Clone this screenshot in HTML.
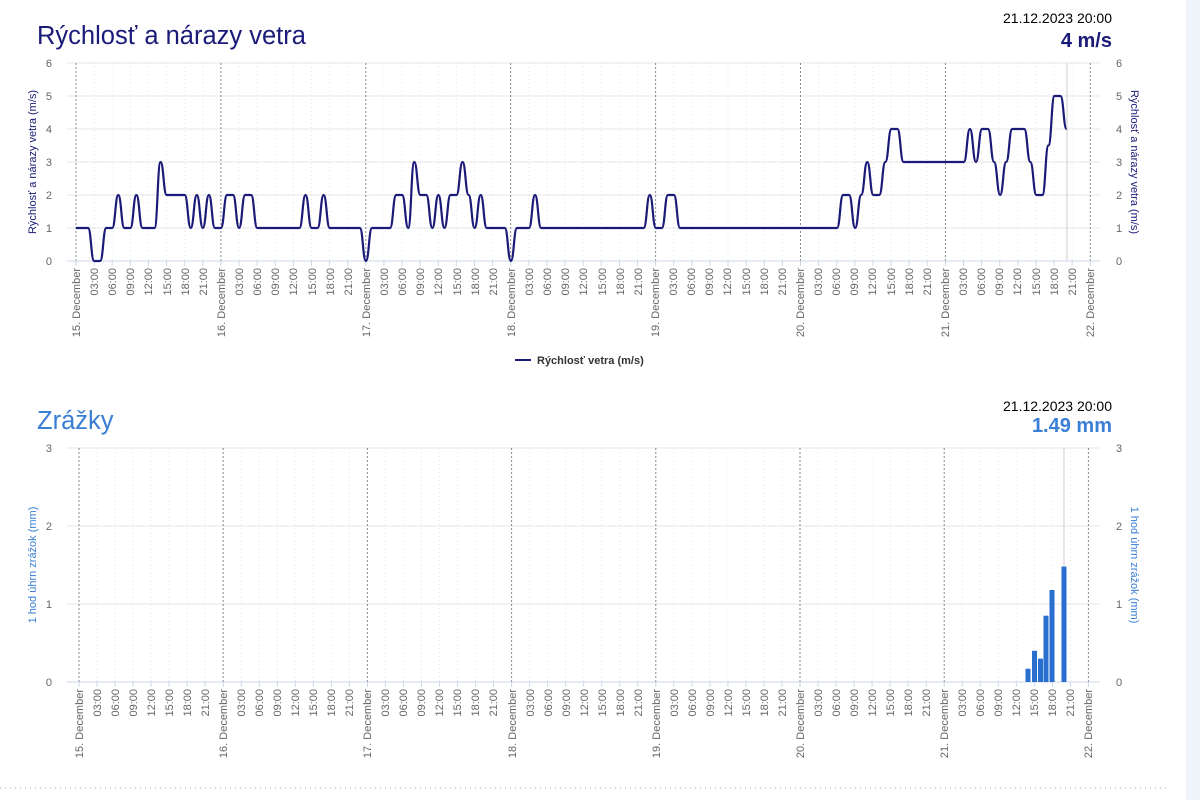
<!DOCTYPE html>
<html><head><meta charset="utf-8"><style>
body{margin:0;background:#fff;width:1200px;height:800px;overflow:hidden;font-family:"Liberation Sans",sans-serif}
svg{position:absolute;left:0;top:0}
.t{font-size:11px;fill:#666}
</style></head><body>
<svg width="1200" height="800" xmlns="http://www.w3.org/2000/svg" font-family="Liberation Sans, sans-serif">
<rect x="1186" y="0" width="14" height="800" fill="#f0f4fb"/>
<line x1="0" y1="788" x2="1170" y2="788" stroke="#aaa" stroke-dasharray="1,4"/>
<g id="g1"></g><g id="g2"></g>
<text x="37" y="44" font-size="25.5" fill="#1a1a78">Rýchlosť a nárazy vetra</text>
<text x="1112" y="23" font-size="14" fill="#000" text-anchor="end">21.12.2023 20:00</text>
<text x="1112" y="47" font-size="20" font-weight="bold" fill="#1a1a78" text-anchor="end">4 m/s</text>
<text x="37" y="429" font-size="25.5" fill="#3a7fd5">Zrážky</text>
<text x="1112" y="411" font-size="14" fill="#000" text-anchor="end">21.12.2023 20:00</text>
<text x="1112" y="432" font-size="20" font-weight="bold" fill="#3a7fd5" text-anchor="end">1.49 mm</text>
<g class="t" text-anchor="end">
<text x="52" y="67">6</text><text x="52" y="100">5</text><text x="52" y="133">4</text><text x="52" y="166">3</text><text x="52" y="199">2</text><text x="52" y="232">1</text><text x="52" y="265">0</text>
<text x="52" y="452">3</text><text x="52" y="530">2</text><text x="52" y="608">1</text><text x="52" y="686">0</text>
</g>
<g class="t">
<text x="1116" y="67">6</text><text x="1116" y="100">5</text><text x="1116" y="133">4</text><text x="1116" y="166">3</text><text x="1116" y="199">2</text><text x="1116" y="232">1</text><text x="1116" y="265">0</text>
<text x="1116" y="452">3</text><text x="1116" y="530">2</text><text x="1116" y="608">1</text><text x="1116" y="686">0</text>
</g>
<text transform="translate(36,162)rotate(-90)" font-size="11" fill="#1a1a78" text-anchor="middle">Rýchlosť a nárazy vetra (m/s)</text>
<text transform="translate(1131,162)rotate(90)" font-size="11" fill="#1a1a78" text-anchor="middle">Rýchlosť a nárazy vetra (m/s)</text>
<text transform="translate(36,565)rotate(-90)" font-size="11" fill="#3a7fd5" text-anchor="middle">1 hod úhrn zrážok (mm)</text>
<text transform="translate(1131,565)rotate(90)" font-size="11" fill="#3a7fd5" text-anchor="middle">1 hod úhrn zrážok (mm)</text>
<line x1="515" y1="360" x2="531" y2="360" stroke="#1a1a78" stroke-width="2"/>
<text x="537" y="364" font-size="11" font-weight="bold" fill="#333">Rýchlosť vetra (m/s)</text>
<g class="t" text-anchor="end" id="lab1">
<g transform="translate(76,268)"><text transform="translate(4,0)rotate(-90)">15. December</text><text transform="translate(22,0)rotate(-90)">03:00</text><text transform="translate(40,0)rotate(-90)">06:00</text><text transform="translate(58,0)rotate(-90)">09:00</text><text transform="translate(76,0)rotate(-90)">12:00</text><text transform="translate(95,0)rotate(-90)">15:00</text><text transform="translate(113,0)rotate(-90)">18:00</text><text transform="translate(131,0)rotate(-90)">21:00</text></g>
<g transform="translate(221,268)"><text transform="translate(4,0)rotate(-90)">16. December</text><text transform="translate(22,0)rotate(-90)">03:00</text><text transform="translate(40,0)rotate(-90)">06:00</text><text transform="translate(58,0)rotate(-90)">09:00</text><text transform="translate(76,0)rotate(-90)">12:00</text><text transform="translate(95,0)rotate(-90)">15:00</text><text transform="translate(113,0)rotate(-90)">18:00</text><text transform="translate(131,0)rotate(-90)">21:00</text></g>
<g transform="translate(366,268)"><text transform="translate(4,0)rotate(-90)">17. December</text><text transform="translate(22,0)rotate(-90)">03:00</text><text transform="translate(40,0)rotate(-90)">06:00</text><text transform="translate(58,0)rotate(-90)">09:00</text><text transform="translate(76,0)rotate(-90)">12:00</text><text transform="translate(95,0)rotate(-90)">15:00</text><text transform="translate(113,0)rotate(-90)">18:00</text><text transform="translate(131,0)rotate(-90)">21:00</text></g>
<g transform="translate(511,268)"><text transform="translate(4,0)rotate(-90)">18. December</text><text transform="translate(22,0)rotate(-90)">03:00</text><text transform="translate(40,0)rotate(-90)">06:00</text><text transform="translate(58,0)rotate(-90)">09:00</text><text transform="translate(76,0)rotate(-90)">12:00</text><text transform="translate(95,0)rotate(-90)">15:00</text><text transform="translate(113,0)rotate(-90)">18:00</text><text transform="translate(131,0)rotate(-90)">21:00</text></g>
<g transform="translate(655,268)"><text transform="translate(4,0)rotate(-90)">19. December</text><text transform="translate(22,0)rotate(-90)">03:00</text><text transform="translate(40,0)rotate(-90)">06:00</text><text transform="translate(58,0)rotate(-90)">09:00</text><text transform="translate(76,0)rotate(-90)">12:00</text><text transform="translate(95,0)rotate(-90)">15:00</text><text transform="translate(113,0)rotate(-90)">18:00</text><text transform="translate(131,0)rotate(-90)">21:00</text></g>
<g transform="translate(800,268)"><text transform="translate(4,0)rotate(-90)">20. December</text><text transform="translate(22,0)rotate(-90)">03:00</text><text transform="translate(40,0)rotate(-90)">06:00</text><text transform="translate(58,0)rotate(-90)">09:00</text><text transform="translate(76,0)rotate(-90)">12:00</text><text transform="translate(95,0)rotate(-90)">15:00</text><text transform="translate(113,0)rotate(-90)">18:00</text><text transform="translate(131,0)rotate(-90)">21:00</text></g>
<g transform="translate(945,268)"><text transform="translate(4,0)rotate(-90)">21. December</text><text transform="translate(22,0)rotate(-90)">03:00</text><text transform="translate(40,0)rotate(-90)">06:00</text><text transform="translate(58,0)rotate(-90)">09:00</text><text transform="translate(76,0)rotate(-90)">12:00</text><text transform="translate(95,0)rotate(-90)">15:00</text><text transform="translate(113,0)rotate(-90)">18:00</text><text transform="translate(131,0)rotate(-90)">21:00</text></g>
<g transform="translate(1090,268)"><text transform="translate(4,0)rotate(-90)">22. December</text></g>
</g>
<g class="t" text-anchor="end">
<g transform="translate(79,689)"><text transform="translate(4,0)rotate(-90)">15. December</text><text transform="translate(22,0)rotate(-90)">03:00</text><text transform="translate(40,0)rotate(-90)">06:00</text><text transform="translate(58,0)rotate(-90)">09:00</text><text transform="translate(76,0)rotate(-90)">12:00</text><text transform="translate(94,0)rotate(-90)">15:00</text><text transform="translate(112,0)rotate(-90)">18:00</text><text transform="translate(130,0)rotate(-90)">21:00</text></g>
<g transform="translate(223,689)"><text transform="translate(4,0)rotate(-90)">16. December</text><text transform="translate(22,0)rotate(-90)">03:00</text><text transform="translate(40,0)rotate(-90)">06:00</text><text transform="translate(58,0)rotate(-90)">09:00</text><text transform="translate(76,0)rotate(-90)">12:00</text><text transform="translate(94,0)rotate(-90)">15:00</text><text transform="translate(112,0)rotate(-90)">18:00</text><text transform="translate(130,0)rotate(-90)">21:00</text></g>
<g transform="translate(367,689)"><text transform="translate(4,0)rotate(-90)">17. December</text><text transform="translate(22,0)rotate(-90)">03:00</text><text transform="translate(40,0)rotate(-90)">06:00</text><text transform="translate(58,0)rotate(-90)">09:00</text><text transform="translate(76,0)rotate(-90)">12:00</text><text transform="translate(94,0)rotate(-90)">15:00</text><text transform="translate(112,0)rotate(-90)">18:00</text><text transform="translate(130,0)rotate(-90)">21:00</text></g>
<g transform="translate(512,689)"><text transform="translate(4,0)rotate(-90)">18. December</text><text transform="translate(22,0)rotate(-90)">03:00</text><text transform="translate(40,0)rotate(-90)">06:00</text><text transform="translate(58,0)rotate(-90)">09:00</text><text transform="translate(76,0)rotate(-90)">12:00</text><text transform="translate(94,0)rotate(-90)">15:00</text><text transform="translate(112,0)rotate(-90)">18:00</text><text transform="translate(130,0)rotate(-90)">21:00</text></g>
<g transform="translate(656,689)"><text transform="translate(4,0)rotate(-90)">19. December</text><text transform="translate(22,0)rotate(-90)">03:00</text><text transform="translate(40,0)rotate(-90)">06:00</text><text transform="translate(58,0)rotate(-90)">09:00</text><text transform="translate(76,0)rotate(-90)">12:00</text><text transform="translate(94,0)rotate(-90)">15:00</text><text transform="translate(112,0)rotate(-90)">18:00</text><text transform="translate(130,0)rotate(-90)">21:00</text></g>
<g transform="translate(800,689)"><text transform="translate(4,0)rotate(-90)">20. December</text><text transform="translate(22,0)rotate(-90)">03:00</text><text transform="translate(40,0)rotate(-90)">06:00</text><text transform="translate(58,0)rotate(-90)">09:00</text><text transform="translate(76,0)rotate(-90)">12:00</text><text transform="translate(94,0)rotate(-90)">15:00</text><text transform="translate(112,0)rotate(-90)">18:00</text><text transform="translate(130,0)rotate(-90)">21:00</text></g>
<g transform="translate(944,689)"><text transform="translate(4,0)rotate(-90)">21. December</text><text transform="translate(22,0)rotate(-90)">03:00</text><text transform="translate(40,0)rotate(-90)">06:00</text><text transform="translate(58,0)rotate(-90)">09:00</text><text transform="translate(76,0)rotate(-90)">12:00</text><text transform="translate(94,0)rotate(-90)">15:00</text><text transform="translate(112,0)rotate(-90)">18:00</text><text transform="translate(130,0)rotate(-90)">21:00</text></g>
<g transform="translate(1088,689)"><text transform="translate(4,0)rotate(-90)">22. December</text></g>
</g>
</svg>
<script>
var NS="http://www.w3.org/2000/svg";
function el(p,n,a){var e=document.createElementNS(NS,n);for(var k in a)e.setAttribute(k,a[k]);p.appendChild(e);return e;}
function chart(g,x0,pd,top,bot,n,curX){
  var step=(bot-top)/n;
  for(var i=1;i<=n;i++){var y=bot-i*step;el(g,'line',{x1:67,x2:1100,y1:y,y2:y,stroke:'#e6e6e6'});}
  for(var d=0;d<8;d++){
    for(var k=1;k<8&&d<7;k++){var x=x0+d*pd+k*pd/8;el(g,'line',{x1:x,x2:x,y1:top,y2:bot,stroke:'#e4e4e4','stroke-dasharray':'1,3'});el(g,'line',{x1:x,x2:x,y1:bot,y2:bot+5,stroke:'#ccd6eb'});}
    var x=x0+d*pd;el(g,'line',{x1:x,x2:x,y1:top,y2:bot,stroke:'#888','stroke-dasharray':'2,2'});el(g,'line',{x1:x,x2:x,y1:bot,y2:bot+5,stroke:'#ccd6eb'});
  }
  el(g,'line',{x1:curX,x2:curX,y1:top,y2:bot,stroke:'#ccc'});
  el(g,'line',{x1:67,x2:1100,y1:bot,y2:bot,stroke:'#ccd6eb'});
}
var g1=document.getElementById('g1'),g2=document.getElementById('g2');
chart(g1,76,144.9,63,261,6,1067);
chart(g2,79,144.2,448,682,3,1064);
var v=[1,1,1,0,0,1,1,2,1,1,2,1,1,1,3,2,2,2,2,1,2,1,2,1,1,2,2,1,2,2,1,1,1,1,1,1,1,1,2,1,1,2,1,1,1,1,1,1,0,1,1,1,1,2,2,1,3,2,2,1,2,1,2,2,3,2,1,2,1,1,1,1,0,1,1,1,2];
for(var h=77;h<=94;h++)v.push(1);
v.push(2,1,1,2,2);
for(var h=100;h<=126;h++)v.push(1);
v.push(2,2,1,2,3,2,2,3,4,4);
for(var h=137;h<=147;h++)v.push(3);
v.push(4,3,4,4,3,2,3,4,4,4,3,2,2,3.5,5,5,4);
var pts=[];for(var i=0;i<v.length;i++)pts.push([76+6.04*i,261-33*v[i]]);
var d='M'+pts[0][0]+','+pts[0][1];
for(var i=1;i<pts.length;i++){var a=pts[i-1],b=pts[i],m=(b[0]-a[0])/2;d+=' C'+(a[0]+m)+','+a[1]+' '+(b[0]-m)+','+b[1]+' '+b[0]+','+b[1];}
el(g1,'path',{d:d,fill:'none',stroke:'#1a1a78','stroke-width':2.2});
var bars=[[1028,0.17],[1034.5,0.4],[1040.5,0.3],[1046,0.85],[1052,1.18],[1064,1.48]];
bars.forEach(function(b){var hh=b[1]*78;el(g2,'rect',{x:b[0]-2.5,y:682-hh,width:5,height:hh,fill:'#2a6fd0'});});
</script>
</body></html>
